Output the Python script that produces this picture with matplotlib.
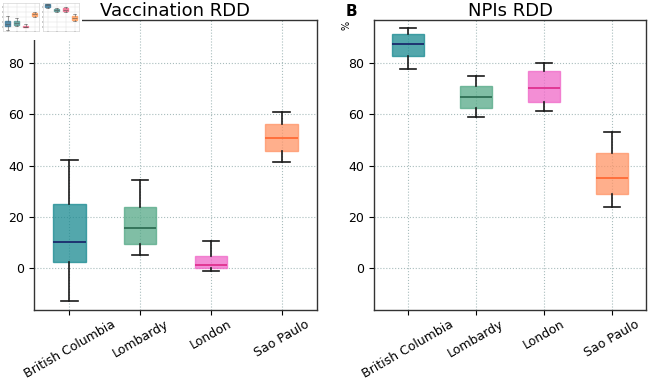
import matplotlib
matplotlib.use("Agg")
import matplotlib.pyplot as plt
import numpy as np

regions = ["British Columbia", "Lombardy", "London", "Sao Paulo"]

# stats: whisker low, Q1, median, Q3, whisker high
vacc_low = [-12.7, 5.1, -1.0, 41.2]
vacc_q1 = [2.2, 9.5, -0.1, 45.5]
vacc_med = [10.1, 15.7, 1.2, 50.7]
vacc_q3 = [25.0, 23.8, 4.7, 56.1]
vacc_high = [42.3, 34.5, 10.7, 60.9]

npi_low = [77.7, 58.9, 61.3, 23.8]
npi_q1 = [82.6, 62.6, 64.9, 28.7]
npi_med = [87.4, 66.7, 70.2, 35.0]
npi_q3 = [91.3, 71.0, 76.7, 45.0]
npi_high = [93.5, 74.8, 80.0, 52.9]

box_colors = ["#1a8a91", "#55a987", "#f068c8", "#ff9466"]
median_colors = ["#1a2a6c", "#2f6f55", "#e0308f", "#ff6a35"]
yticks = [0, 20, 40, 60, 80]


def make_stats(low, q1, med, q3, high):
    return [dict(whislo=a, q1=b, med=c, q3=d, whishi=e, fliers=[])
            for a, b, c, d, e in zip(low, q1, med, q3, high)]


def draw(ax, stats, title):
    bp = ax.bxp(stats, positions=np.arange(1, len(stats) + 1), widths=0.46,
                patch_artist=True, showfliers=False)
    for i, box in enumerate(bp["boxes"]):
        box.set_facecolor(box_colors[i])
        box.set_alpha(0.75)
        box.set_edgecolor(box_colors[i])
        box.set_linewidth(1.0)
    for i, med in enumerate(bp["medians"]):
        med.set_color(median_colors[i])
        med.set_linewidth(1.3)
    for w in bp["whiskers"]:
        w.set_color("#1a1a1a")
        w.set_linewidth(1.2)
    for c in bp["caps"]:
        c.set_color("#1a1a1a")
        c.set_linewidth(1.2)
    ax.set_xticks(np.arange(1, len(regions) + 1))
    ax.set_xticklabels(regions, rotation=30, fontsize=9)
    ax.tick_params(axis="x", pad=2.0)
    ax.set_yticks(yticks)
    ax.tick_params(axis="y", labelsize=9)
    ax.set_ylim(-16.4, 96.8)
    ax.set_xlim(0.5, 4.5)
    ax.grid(True, color="#a9bdbd", linestyle=":", linewidth=0.8)
    ax.set_axisbelow(True)
    ax.set_title(title, fontsize=13, pad=3)
    for s in ax.spines.values():
        s.set_color("#333333")
        s.set_linewidth(1.0)


fig = plt.figure(figsize=(6.6, 3.8), dpi=100)
ax1 = fig.add_axes([34 / 660, 1 - 310 / 380, 283 / 660, 290 / 380])
ax2 = fig.add_axes([374 / 660, 1 - 310 / 380, 272 / 660, 290 / 380])

draw(ax1, make_stats(vacc_low, vacc_q1, vacc_med, vacc_q3, vacc_high), "Vaccination RDD")
draw(ax2, make_stats(npi_low, npi_q1, npi_med, npi_q3, npi_high), "NPIs RDD")

fig.text(346 / 660, 1 - 4 / 380, "B", fontsize=11, fontweight="bold", ha="left", va="top")
fig.text(347 / 660, 1 - 25 / 380, "%", fontsize=7, rotation=90, ha="center", va="center")

# small thumbnail inset in the top-left corner
bg = fig.add_axes([0, 1 - 40 / 380, 82 / 660, 40 / 380])
bg.set_facecolor("white")
bg.set_xticks([])
bg.set_yticks([])
for s in bg.spines.values():
    s.set_visible(False)
bg.set_zorder(5)

thumb_colors = ["#3f7a9a", "#5a9a98", "#f07090", "#ffa060"]
for k, (stats, x0) in enumerate([
        (make_stats(vacc_low, vacc_q1, vacc_med, vacc_q3, vacc_high), 3),
        (make_stats(npi_low, npi_q1, npi_med, npi_q3, npi_high), 43)]):
    tax = fig.add_axes([x0 / 660, 1 - 31 / 380, 36 / 660, 28 / 380])
    tax.set_zorder(6)
    bp = tax.bxp(stats, widths=0.5, patch_artist=True, showfliers=False)
    for i, box in enumerate(bp["boxes"]):
        box.set_facecolor(thumb_colors[i])
        box.set_edgecolor(thumb_colors[i])
        box.set_alpha(0.85)
    for a in bp["whiskers"] + bp["caps"] + bp["medians"]:
        a.set_color("#555555")
        a.set_linewidth(0.4)
    tax.set_ylim(-16.4, 96.8)
    tax.set_xticks([1, 2, 3, 4])
    tax.set_xticklabels(["" for _ in regions])
    tax.set_yticks(yticks)
    tax.set_yticklabels([])
    tax.tick_params(length=1, width=0.3)
    tax.grid(True, color="#dddddd", linewidth=0.3)
    for s in tax.spines.values():
        s.set_color("#cccccc")
        s.set_linewidth(0.4)

fig.savefig("out.png", dpi=100)
